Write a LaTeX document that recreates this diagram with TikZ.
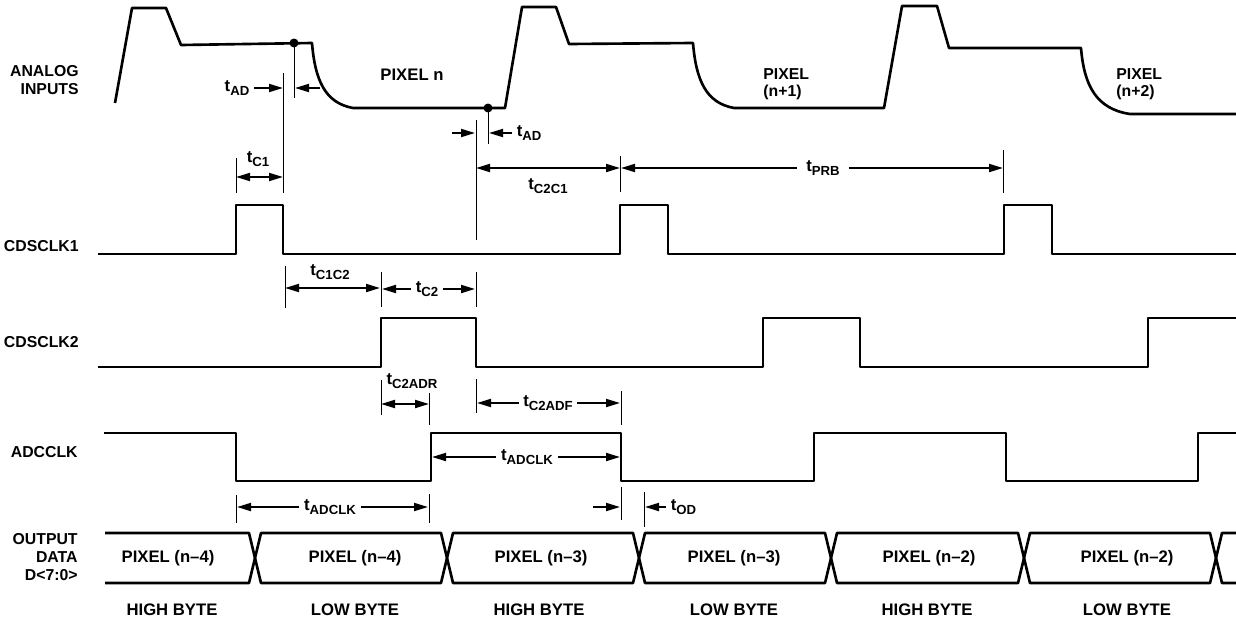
\documentclass[tikz,border=0pt]{standalone}
\usepackage{fontspec}
\setmainfont{Liberation Sans}
\usetikzlibrary{arrows.meta}

\tikzset{
  sig/.style={line width=1.5pt,line join=round},
  guide/.style={line width=0.5pt},
  dimarrow/.style={line width=1.1pt,-{Triangle[length=2.8mm,width=1.6mm]}},
  dimboth/.style={line width=1.1pt,{Triangle[length=2.8mm,width=1.6mm]}-{Triangle[length=2.8mm,width=1.6mm]}},
  signame/.style={font=\bfseries\fontsize{9}{10}\selectfont,align=right,anchor=east,inner sep=0pt},
  pixname/.style={font=\bfseries\fontsize{9}{10}\selectfont,align=left,anchor=west,inner sep=0pt},
  tlabel/.style={font=\bfseries\fontsize{9.5}{11}\selectfont,inner sep=2.5pt},
  celltext/.style={font=\bfseries\fontsize{9.5}{11}\selectfont},
}
\newcommand{\tdly}[1]{t\raisebox{-2.6pt}{\fontsize{7.5}{8}\selectfont #1}}

\begin{document}
\begin{tikzpicture}[x=0.02cm,y=-0.02cm]
\useasboundingbox (0,0) rectangle (1236,622);

% Signal names
\node[signame] (ain) at (79,80) {ANALOG\\INPUTS};
\node[signame] (cone) at (79,246) {CDSCLK1};
\node[signame] (ctwo) at (79,342) {CDSCLK2};
\node[signame] (adc) at (78,452) {ADCCLK};
\node[signame] (dout) at (78,557) {OUTPUT\\DATA\\D<7:0>};

% Analog input waveform
\draw[sig] (115,103) -- (132,8) -- (166,8) -- (181,45) -- (312,43)
  .. controls (315,80) and (325,103) .. (353,108) -- (505,108)
  -- (522,7) -- (556,7) -- (569,44) -- (693,43)
  .. controls (696,80) and (706,103) .. (734,108) -- (884,108)
  -- (902,6) -- (937,6) -- (949,48) -- (1081,48)
  .. controls (1084,85) and (1096,109) .. (1130,114) -- (1236,114);
\fill (294,43) circle[radius=0.9mm];
\fill (488,108) circle[radius=0.9mm];

\node[celltext,inner sep=0pt] (pxn) at (412,75) {PIXEL n};
\node[pixname] (pxa) at (763,84) {PIXEL\\(n+1)};
\node[pixname] (pxb) at (1116,84) {PIXEL\\(n+2)};

% Clocks
\draw[sig] (98,254) -- (236,254) -- (236,205) -- (283,205) -- (283,254)
  -- (620,254) -- (620,205) -- (668,205) -- (668,254)
  -- (1004,254) -- (1004,205) -- (1052,205) -- (1052,254) -- (1236,254);
\draw[sig] (98,367) -- (381,367) -- (381,318) -- (476,318) -- (476,367)
  -- (763,367) -- (763,318) -- (860,318) -- (860,367)
  -- (1148,367) -- (1148,318) -- (1236,318);
\draw[sig] (104,433) -- (236,433) -- (236,481) -- (431,481) -- (431,433)
  -- (621,433) -- (621,481) -- (814,481) -- (814,433)
  -- (1006,433) -- (1006,481) -- (1198,481) -- (1198,433) -- (1236,433);

% Output data bus
\draw[sig] (105,533) -- (249,533) -- (255,558) -- (249,583) -- (105,583);
\foreach \a/\b in {255/447,447/639,639/831,831/1024,1024/1216} {
  \draw[sig] (\a,558) -- (\a+6,533) -- (\b-6,533) -- (\b,558)
    -- (\b-6,583) -- (\a+6,583) -- cycle;
}
\draw[sig] (1236,533) -- (1222,533) -- (1216,558) -- (1222,583) -- (1236,583);

\foreach \x/\txt [count=\i] in {168/{PIXEL (n–4)},355/{PIXEL (n–4)},541/{PIXEL (n–3)},
    734/{PIXEL (n–3)},929/{PIXEL (n–2)},1127/{PIXEL (n–2)}}
  \node[celltext] (cell\i) at (\x,558) {\txt};
\foreach \x/\txt [count=\i] in {172/HIGH BYTE,355/LOW BYTE,539/HIGH BYTE,
    734/LOW BYTE,927/HIGH BYTE,1127/LOW BYTE}
  \node[celltext] (byte\i) at (\x,610) {\txt};

% Guide lines
\foreach \x/\a/\b in {283/73/193, 294/43/98, 236/158/193, 476/120/240, 488/108/144,
    620/156/192, 1003/150/193, 285/266/308, 381/272/307, 476/272/307,
    381/380/415, 476/379/413, 429/393/425, 621/391/425,
    236/495/523, 429/494/523, 621/487/520, 644/492/527}
  \draw[guide] (\x,\a) -- (\x,\b);

% Timing parameters
\node[tlabel] (tadA) at (237,88) {\tdly{AD}};
\draw[dimarrow] (tadA.east) -- (283,88);
\draw[dimarrow] (320,88) -- (295,88);

\node[tlabel] (tcone) at (258,159) {\tdly{C1}};
\draw[dimboth] (236,177) -- (283,177);

\draw[dimarrow] (452,133) -- (475,133);
\node[tlabel,anchor=west] (tadB) at (512,133) {\tdly{AD}};
\draw[dimarrow] (tadB.west) -- (489,133);

\draw[dimboth] (476,168) -- (620,168);
\node[tlabel] (tctwocone) at (548,186) {\tdly{C2C1}};

\node[tlabel,inner xsep=5pt] (tprb) at (823,168) {\tdly{PRB}};
\draw[dimarrow] (tprb.west) -- (621,168);
\draw[dimarrow] (tprb.east) -- (1003,168);

\node[tlabel] (tconectwo) at (330,272) {\tdly{C1C2}};
\draw[dimboth] (285,288) -- (380,288);

\node[tlabel] (tctwo) at (427,289) {\tdly{C2}};
\draw[dimarrow] (tctwo.west) -- (382,289);
\draw[dimarrow] (tctwo.east) -- (475,289);

\node[tlabel] (tcadr) at (412,381) {\tdly{C2ADR}};
\draw[dimboth] (381,404) -- (429,404);

\node[tlabel] (tcadf) at (548,403) {\tdly{C2ADF}};
\draw[dimarrow] (tcadf.west) -- (477,403);
\draw[dimarrow] (tcadf.east) -- (620,403);

\node[tlabel] (tadclkA) at (527,457) {\tdly{ADCLK}};
\draw[dimarrow] (tadclkA.west) -- (432,457);
\draw[dimarrow] (tadclkA.east) -- (620,457);

\node[tlabel] (tadclkB) at (330,507) {\tdly{ADCLK}};
\draw[dimarrow] (tadclkB.west) -- (237,507);
\draw[dimarrow] (tadclkB.east) -- (428,507);

\draw[dimarrow] (593,507) -- (620,507);
\node[tlabel,anchor=west] (tod) at (666,507) {\tdly{OD}};
\draw[dimarrow] (tod.west) -- (645,507);
\end{tikzpicture}
\end{document}
